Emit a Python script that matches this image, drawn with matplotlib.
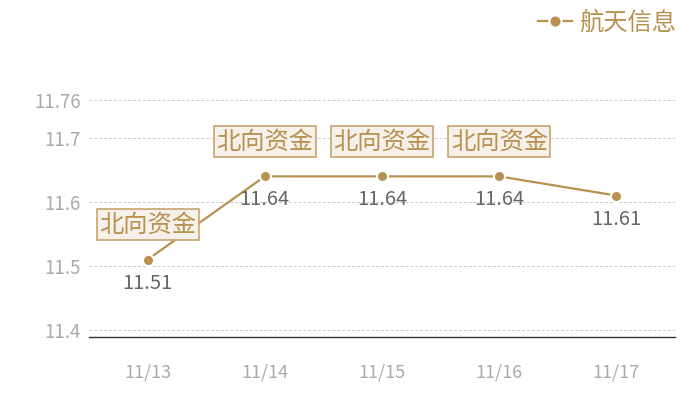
import matplotlib
matplotlib.use("Agg")
import matplotlib.pyplot as plt

plt.rcParams['font.family'] = ['Noto Sans CJK SC', 'DejaVu Sans']

dates = ["11/13", "11/14", "11/15", "11/16", "11/17"]
prices = [11.51, 11.64, 11.64, 11.64, 11.61]
flags = ["北向资金", "北向资金", "北向资金", "北向资金", ""]
y_ticks = [11.4, 11.5, 11.6, 11.7, 11.76]
y_tick_labels = ["11.4", "11.5", "11.6", "11.7", "11.76"]
series_name = "航天信息"

gold = "#b8914f"

fig = plt.figure(figsize=(7, 4), dpi=100)
ax = fig.add_axes([89/700, 63/400, 586/700, (337-99.6)/400])

x = list(range(len(dates)))
ax.plot(x, prices, color=gold, lw=1.6, marker='o', ms=8,
        markerfacecolor=gold, markeredgecolor='white', markeredgewidth=1.5,
        zorder=3, label=series_name)

for xi, p, f in zip(x, prices, flags):
    ax.annotate(f"{p:.2f}", (xi, p), xytext=(0, -17), textcoords='offset points',
                ha='center', va='center', fontsize=14.5, color='#666666', zorder=4)
    if f:
        ax.annotate(f, (xi, p), xytext=(0, 25), textcoords='offset points',
                    ha='center', va='center', fontsize=17.5, color=gold, zorder=5,
                    bbox=dict(boxstyle='square,pad=0.1', facecolor='#f5f0ea',
                              edgecolor='#c9a46e', lw=1.2))

ax.set_xlim(-0.5, len(dates) - 0.5)
ax.set_ylim(11.389, 11.76)
ax.set_xticks(x)
ax.set_xticklabels(dates)
ax.set_yticks(y_ticks)
ax.set_yticklabels(y_tick_labels)
ax.tick_params(axis='both', length=0, labelsize=13.5, labelcolor='#aaaaaa')
ax.tick_params(axis='x', labelsize=13, pad=19)
ax.tick_params(axis='y', pad=6)
ax.grid(axis='y', color='#cccccc', ls=(0, (3, 2)), lw=0.7)
ax.set_axisbelow(True)
for s in ['top', 'right', 'left']:
    ax.spines[s].set_visible(False)
ax.spines['bottom'].set_color('#333333')
ax.spines['bottom'].set_linewidth(1)

fig.legend(loc='upper right', bbox_to_anchor=(0.997, 1.03), frameon=False,
           fontsize=17.5, handlelength=1.4, handletextpad=0.3, labelcolor=gold,
           markerscale=1.1)

fig.savefig("out.png", dpi=100)
